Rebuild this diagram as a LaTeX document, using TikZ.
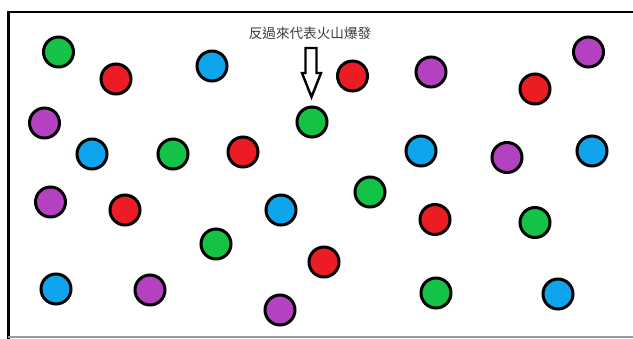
\documentclass[tikz,border=0pt]{standalone}
\usepackage{fontspec}
\newfontfamily\cjk{Noto Sans CJK TC}
\definecolor{bgreen}{RGB}{20,194,70}
\definecolor{bred}{RGB}{236,28,36}
\definecolor{bblue}{RGB}{14,165,236}
\definecolor{bpurple}{RGB}{180,66,192}
\definecolor{txtgray}{RGB}{60,60,60}
\tikzset{
  ball/.style={circle, draw=black, line width=3pt, minimum size=30pt, inner sep=0pt},
  G/.style={ball, fill=bgreen},
  R/.style={ball, fill=bred},
  B/.style={ball, fill=bblue},
  P/.style={ball, fill=bpurple},
  frameline/.style={line width=2.7pt, black},
  hollowarrow/.style={draw=black, fill=white, line width=2.4pt, line join=miter},
}
\begin{document}
\begin{tikzpicture}[x=1pt,y=-1pt]
\useasboundingbox (0,0) rectangle (633,338);
\fill[white] (0,0) rectangle (633,338);
% frame
\coordinate (tl) at (8.7,12);
\coordinate (tr) at (640,12);
\coordinate (bl) at (8.7,345);
\draw[frameline] (tr) -- (tl) -- (bl);
\coordinate (gl) at (8,336.5);
\coordinate (gr) at (640,336.5);
\draw[line width=2pt, gray!80] (gl) -- (gr);
% label and arrow
\node[font=\cjk\fontsize{13.6}{15}\selectfont, text=txtgray, inner sep=0pt] (label) at (310,33) {反過來代表火山爆發};
\draw[hollowarrow] (305.5,48) -- (305.5,73) -- (302,73) -- (311.5,97) -- (321,73) -- (316.5,73) -- (316.5,48) -- cycle;
% balls
\node[G] (g1) at (58.5,52) {};
\node[R] (r1) at (116,79) {};
\node[B] (b1) at (212,66) {};
\node[R] (r2) at (352.5,76) {};
\node[P] (p1) at (431,72) {};
\node[R] (r3) at (535,89) {};
\node[P] (p2) at (588.5,52) {};
\node[P] (p3) at (44.5,123) {};
\node[B] (b2) at (92,154) {};
\node[G] (g2) at (173,154) {};
\node[R] (r4) at (243,152) {};
\node[G] (g3) at (312,122) {};
\node[B] (b3) at (421,151) {};
\node[P] (p4) at (507,157.5) {};
\node[B] (b4) at (592,151) {};
\node[P] (p5) at (50.5,202) {};
\node[R] (r5) at (125,210) {};
\node[B] (b5) at (281,210) {};
\node[G] (g4) at (370,192) {};
\node[R] (r6) at (435,219.5) {};
\node[G] (g5) at (535,222.5) {};
\node[G] (g6) at (216,244) {};
\node[R] (r7) at (324,262) {};
\node[B] (b6) at (56,289) {};
\node[P] (p6) at (150,290) {};
\node[P] (p7) at (280,310) {};
\node[G] (g7) at (436,293) {};
\node[B] (b7) at (558,294) {};
\end{tikzpicture}
\end{document}
